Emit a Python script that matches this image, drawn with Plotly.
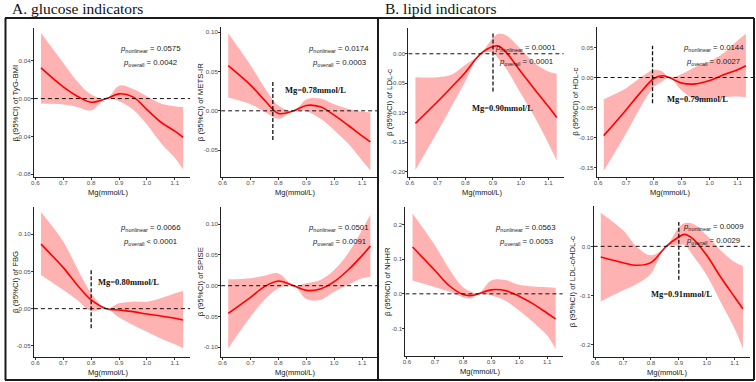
import plotly.graph_objects as go

W, H = 756, 382

# ---------------- data ----------------
x_glu = [0.62, 0.70, 0.75, 0.80, 0.855, 0.90, 0.95, 1.00, 1.05, 1.10, 1.13]

tyg_fit = [0.0324, 0.0123, 0.0025, -0.0039, 0.0, 0.0050, 0.0018, -0.0116, -0.0250, -0.0345, -0.0410]
tyg_up = [0.0694, 0.0377, 0.0183, 0.0042, 0.0, 0.0137, 0.0102, 0.0025, -0.0053, -0.0081, -0.0088]
tyg_lo = [-0.0053, -0.0063, -0.0088, -0.0127, 0.0, -0.0028, -0.0116, -0.0275, -0.0469, -0.0627, -0.0750]

mets_fit = [0.0574, 0.0327, 0.0136, -0.0034, 0.0, 0.0068, 0.0051, -0.0055, -0.0183, -0.0319, -0.0395]
mets_up = [0.0986, 0.0580, 0.0297, 0.0068, 0.0, 0.0144, 0.0157, 0.0085, 0.0025, -0.0013, -0.0020]
mets_lo = [0.0170, 0.0085, -0.0013, -0.0102, 0.0, -0.0004, -0.0098, -0.0246, -0.0416, -0.0629, -0.0756]

fbg_fit = [0.0867, 0.0552, 0.0319, 0.0117, 0.0, -0.0018, -0.0040, -0.0072, -0.0099, -0.0130, -0.0153]
fbg_up = [0.1300, 0.0902, 0.0543, 0.0207, 0.0, 0.0072, 0.0094, 0.0094, 0.0139, 0.0207, 0.0238]
fbg_lo = [0.0453, 0.0251, 0.0117, -0.0030, 0.0, -0.0120, -0.0220, -0.0310, -0.0400, -0.0480, -0.0534]

spise_fit = [-0.0451, -0.0190, -0.0016, 0.0076, 0.0, -0.0076, -0.0054, 0.0065, 0.0255, 0.0489, 0.0646]
spise_up = [0.0103, 0.0120, 0.0163, 0.0200, 0.0, 0.0038, 0.0092, 0.0255, 0.0527, 0.0907, 0.1160]
spise_lo = [-0.1020, -0.0505, -0.0233, -0.0043, 0.0, -0.0217, -0.0233, -0.0098, 0.0010, 0.0120, 0.0147]

x_ldl = [0.62, 0.70, 0.75, 0.80, 0.855, 0.90, 0.92, 0.95, 1.00, 1.05, 1.10, 1.13]
ldl_fit = [-0.118, -0.081, -0.0567, -0.0318, 0.0, 0.0125, 0.0130, 0.0011, -0.030, -0.060, -0.0896, -0.108]
ldl_up = [-0.0397, -0.0397, -0.0357, -0.0187, 0.0, 0.0266, 0.0340, 0.0306, 0.0079, -0.0159, -0.030, -0.034]
ldl_lo = [-0.197, -0.132, -0.0896, -0.047, 0.0, 0.0011, -0.009, -0.027, -0.067, -0.107, -0.152, -0.181]

x_hdl = [0.62, 0.70, 0.75, 0.80, 0.83, 0.855, 0.90, 0.95, 1.00, 1.05, 1.10, 1.13]
hdl_fit = [-0.0967, -0.054, -0.026, -0.0017, 0.003, 0.0, -0.0094, -0.0106, -0.005, 0.0044, 0.0128, 0.0195]
hdl_up = [-0.036, -0.0178, -0.001, 0.0128, 0.010, 0.0, 0.006, 0.018, 0.0267, 0.0406, 0.0617, 0.0728]
hdl_lo = [-0.155, -0.093, -0.051, -0.016, -0.0067, 0.0, -0.0217, -0.037, -0.036, -0.0328, -0.0317, -0.0328]

x_nhhr = [0.62, 0.70, 0.75, 0.80, 0.83, 0.855, 0.90, 0.95, 1.00, 1.05, 1.10, 1.13]
nhhr_fit = [0.1347, 0.0673, 0.024, -0.002, -0.005, 0.0, 0.0115, 0.0096, -0.0067, -0.029, -0.0558, -0.072]
nhhr_up = [0.231, 0.139, 0.072, 0.019, 0.006, 0.0, 0.0385, 0.040, 0.026, 0.021, 0.019, 0.0173]
nhhr_lo = [0.0385, 0.0192, 0.0067, -0.0096, -0.013, 0.0, -0.0048, -0.0192, -0.048, -0.082, -0.120, -0.159]

x_ratio = [0.62, 0.70, 0.75, 0.80, 0.855, 0.90, 0.92, 0.95, 1.00, 1.05, 1.10, 1.13]
ratio_fit = [-0.0217, -0.0332, -0.0386, -0.0332, 0.0, 0.019, 0.0244, 0.0156, -0.0183, -0.0624, -0.103, -0.127]
ratio_up = [0.0685, 0.0325, -0.0014, -0.0183, 0.0, 0.039, 0.047, 0.046, 0.0224, -0.008, -0.032, -0.040]
ratio_lo = [-0.112, -0.0895, -0.076, -0.0556, 0.0, 0.002, 0.003, -0.0183, -0.059, -0.113, -0.167, -0.208]

x_ticks = [0.6, 0.7, 0.8, 0.9, 1.0, 1.1]
x_ticklabels = ["0.6", "0.7", "0.8", "0.9", "1.0", "1.1"]

panels = [
    dict(name="TyG-BMI", x=x_glu, fit=tyg_fit, up=tyg_up, lo=tyg_lo,
         yt=[-0.08, -0.04, 0.0, 0.04], ytl=["-0.08", "-0.04", "0.00", "0.04"],
         pnl="0.0575", pov="= 0.0042", cut=None, cutlab=None),
    dict(name="METS-IR", x=x_glu, fit=mets_fit, up=mets_up, lo=mets_lo,
         yt=[-0.05, 0.0, 0.05, 0.10], ytl=["-0.05", "0.00", "0.05", "0.10"],
         pnl="0.0174", pov="= 0.0003", cut=0.78, cutlab="Mg=0.78mmol/L"),
    dict(name="FBG", x=x_glu, fit=fbg_fit, up=fbg_up, lo=fbg_lo,
         yt=[-0.05, 0.0, 0.05, 0.10], ytl=["-0.05", "0.00", "0.05", "0.10"],
         pnl="0.0066", pov="< 0.0001", cut=0.80, cutlab="Mg=0.80mmol/L"),
    dict(name="SPISE", x=x_glu, fit=spise_fit, up=spise_up, lo=spise_lo,
         yt=[-0.10, -0.05, 0.0, 0.05, 0.10], ytl=["-0.10", "-0.05", "0.00", "0.05", "0.10"],
         pnl="0.0501", pov="= 0.0091", cut=None, cutlab=None),
    dict(name="LDL-c", x=x_ldl, fit=ldl_fit, up=ldl_up, lo=ldl_lo,
         yt=[-0.20, -0.15, -0.10, -0.05, 0.0], ytl=["-0.20", "-0.15", "-0.10", "-0.05", "0.00"],
         pnl="0.0001", pov="= 0.0001", cut=0.90, cutlab="Mg=0.90mmol/L"),
    dict(name="HDL-c", x=x_hdl, fit=hdl_fit, up=hdl_up, lo=hdl_lo,
         yt=[-0.15, -0.10, -0.05, 0.0, 0.05], ytl=["-0.15", "-0.10", "-0.05", "0.00", "0.05"],
         pnl="0.0144", pov="= 0.0027", cut=0.795, cutlab="Mg=0.79mmol/L"),
    dict(name="NHHR", x=x_nhhr, fit=nhhr_fit, up=nhhr_up, lo=nhhr_lo,
         yt=[-0.1, 0.0, 0.1, 0.2], ytl=["-0.1", "0.0", "0.1", "0.2"],
         pnl="0.0563", pov="= 0.0053", cut=None, cutlab=None),
    dict(name="LDL-c/HDL-c", x=x_ratio, fit=ratio_fit, up=ratio_up, lo=ratio_lo,
         yt=[-0.2, -0.1, 0.0], ytl=["-0.2", "-0.1", "0.0"],
         pnl="0.0009", pov="= 0.0029", cut=0.90, cutlab="Mg=0.91mmol/L"),
]

# ---------------- layout geometry (pixels) ----------------
geo = [
    dict(x0=31, x1=188, y0=28, y1=177, yr=[-0.083, 0.0747], cut_y=None, ytx=13, lab=None, p=(148, 49)),
    dict(x0=219, x1=376, y0=27, y1=177, yr=[-0.084, 0.1064], cut_y=(-0.037, 0.037), ytx=198, lab=(314, 90), p=(337, 49)),
    dict(x0=31, x1=188, y0=207, y1=357, yr=[-0.065, 0.1367], cut_y=(-0.0265, 0.052), ytx=12, lab=(126, 282), p=(148, 228)),
    dict(x0=219, x1=376, y0=207, y1=357, yr=[-0.116, 0.128], cut_y=None, ytx=198, lab=None, p=(337, 228)),
    dict(x0=407, x1=563, y0=28, y1=177, yr=[-0.209, 0.0437], cut_y=(-0.064, 0.035), ytx=388, lab=(501, 108), p=(525, 48)),
    dict(x0=596, x1=753, y0=27, y1=177, yr=[-0.1655, 0.084], cut_y=(-0.0428, 0.0528), ytx=574, lab=(697, 99), p=(713, 48)),
    dict(x0=404, x1=562, y0=207, y1=356, yr=[-0.179, 0.25], cut_y=None, ytx=386, lab=None, p=(525, 228)),
    dict(x0=593, x1=750, y0=206, y1=357, yr=[-0.225, 0.082], cut_y=(-0.068, 0.0495), ytx=572, lab=(681, 294), p=(713, 227)),
]

XR = [0.5945, 1.1555]
RED = "#FF0000"
BAND = "rgba(255,0,0,0.30)"
TICKC = "#4D4D4D"
SANS = "Liberation Sans, Arial, sans-serif"
SERIF = "Liberation Serif, Times New Roman, serif"


def px(x):
    return x / W


def py(y):
    return 1 - y / H


fig = go.Figure()
shapes = []
annotations = []
layout_axes = {}

for i, (p, g) in enumerate(zip(panels, geo)):
    k = "" if i == 0 else str(i + 1)
    xa, ya = "x" + k, "y" + k
    # confidence band
    fig.add_trace(go.Scatter(x=p["x"], y=p["lo"], mode="lines", line=dict(width=0, shape="spline", color=BAND),
                             xaxis=xa, yaxis=ya, showlegend=False, hoverinfo="skip"))
    fig.add_trace(go.Scatter(x=p["x"], y=p["up"], mode="lines", line=dict(width=0, shape="spline", color=BAND),
                             fill="tonexty", fillcolor=BAND, xaxis=xa, yaxis=ya, showlegend=False, hoverinfo="skip"))
    # fitted curve
    fig.add_trace(go.Scatter(x=p["x"], y=p["fit"], mode="lines", line=dict(width=1.6, shape="spline", color=RED),
                             xaxis=xa, yaxis=ya, showlegend=False))

    layout_axes["xaxis" + k] = dict(
        domain=[px(g["x0"]), px(g["x1"])], range=XR, anchor=ya,
        showline=True, linecolor="#222", linewidth=1, mirror=False,
        ticks="outside", ticklen=2, tickcolor="#333", tickwidth=1,
        ticklabelstandoff=-2,
        tickvals=x_ticks, ticktext=x_ticklabels,
        tickfont=dict(size=6.2, color=TICKC, family=SANS),
        showgrid=False, zeroline=False, fixedrange=True,
    )
    layout_axes["yaxis" + k] = dict(
        domain=[py(g["y1"]), py(g["y0"])], range=g["yr"], anchor=xa,
        showline=True, linecolor="#222", linewidth=1,
        ticks="outside", ticklen=2, tickcolor="#333", tickwidth=1,
        ticklabelstandoff=-1,
        tickvals=p["yt"], ticktext=p["ytl"],
        tickfont=dict(size=6.2, color=TICKC, family=SANS),
        showgrid=False, zeroline=False, fixedrange=True,
    )
    # zero reference line
    shapes.append(dict(type="line", xref=xa, yref=ya, x0=XR[0], x1=XR[1], y0=0, y1=0,
                       line=dict(color="#111", width=1, dash="4px,3px")))
    # cut-point line and label
    if p["cut"] is not None:
        shapes.append(dict(type="line", xref=xa, yref=ya, x0=p["cut"], x1=p["cut"],
                           y0=g["cut_y"][0], y1=g["cut_y"][1],
                           line=dict(color="#111", width=1.3, dash="4px,2px")))
        annotations.append(dict(xref="paper", yref="paper", x=px(g["lab"][0]), y=py(g["lab"][1]),
                                text="<b>" + p["cutlab"] + "</b>", showarrow=False,
                                xanchor="center", yanchor="middle",
                                font=dict(family=SERIF, size=8.5, color="#111")))
    # axis titles
    annotations.append(dict(xref="paper", yref="paper", x=px(g["ytx"]), y=py((g["y0"] + g["y1"]) / 2),
                            text="β (95%CI) of " + p["name"], textangle=-90, showarrow=False,
                            xanchor="center", yanchor="middle",
                            font=dict(family=SANS, size=7.8, color="#111")))
    annotations.append(dict(xref="paper", yref="paper", x=px((g["x0"] + g["x1"]) / 2 - 4), y=py(g["y1"] + 15),
                            text="Mg(mmol/L)", showarrow=False, xanchor="center", yanchor="middle",
                            font=dict(family=SANS, size=7.5, color="#111")))
    # p values
    cx, cy = g["p"]
    annotations.append(dict(xref="paper", yref="paper", x=px(cx), y=py(cy),
                            text="<i>p</i><sub>nonlinear</sub> = " + p["pnl"], showarrow=False,
                            xanchor="center", yanchor="middle",
                            font=dict(family=SANS, size=7.8, color="#1a1a1a")))
    annotations.append(dict(xref="paper", yref="paper", x=px(cx), y=py(cy + 14),
                            text="<i>p</i><sub>overall</sub> " + p["pov"], showarrow=False,
                            xanchor="center", yanchor="middle",
                            font=dict(family=SANS, size=7.8, color="#1a1a1a")))

# section titles
annotations.append(dict(xref="paper", yref="paper", x=px(7), y=py(9), text="A. glucose indicators",
                        showarrow=False, xanchor="left", yanchor="middle",
                        font=dict(family=SERIF, size=15.5, color="#111")))
annotations.append(dict(xref="paper", yref="paper", x=px(382), y=py(9), text="B. lipid indicators",
                        showarrow=False, xanchor="left", yanchor="middle",
                        font=dict(family=SERIF, size=15.5, color="#111")))

# frame boxes
frame = dict(color="#1a1a1a", width=2)
for (a, b, c, d) in [(2, 18, 754, 18), (2, 380, 754, 380), (2.5, 18, 2.5, 380),
                     (376.5, 18, 376.5, 380), (754, 18, 754, 380)]:
    shapes.append(dict(type="line", xref="paper", yref="paper", x0=px(a), y0=py(b), x1=px(c), y1=py(d),
                       line=frame))

fig.update_layout(
    width=W, height=H, margin=dict(l=0, r=0, t=0, b=0),
    paper_bgcolor="white", plot_bgcolor="white",
    shapes=shapes, annotations=annotations, showlegend=False,
    **layout_axes,
)

fig.write_html("out.html")
